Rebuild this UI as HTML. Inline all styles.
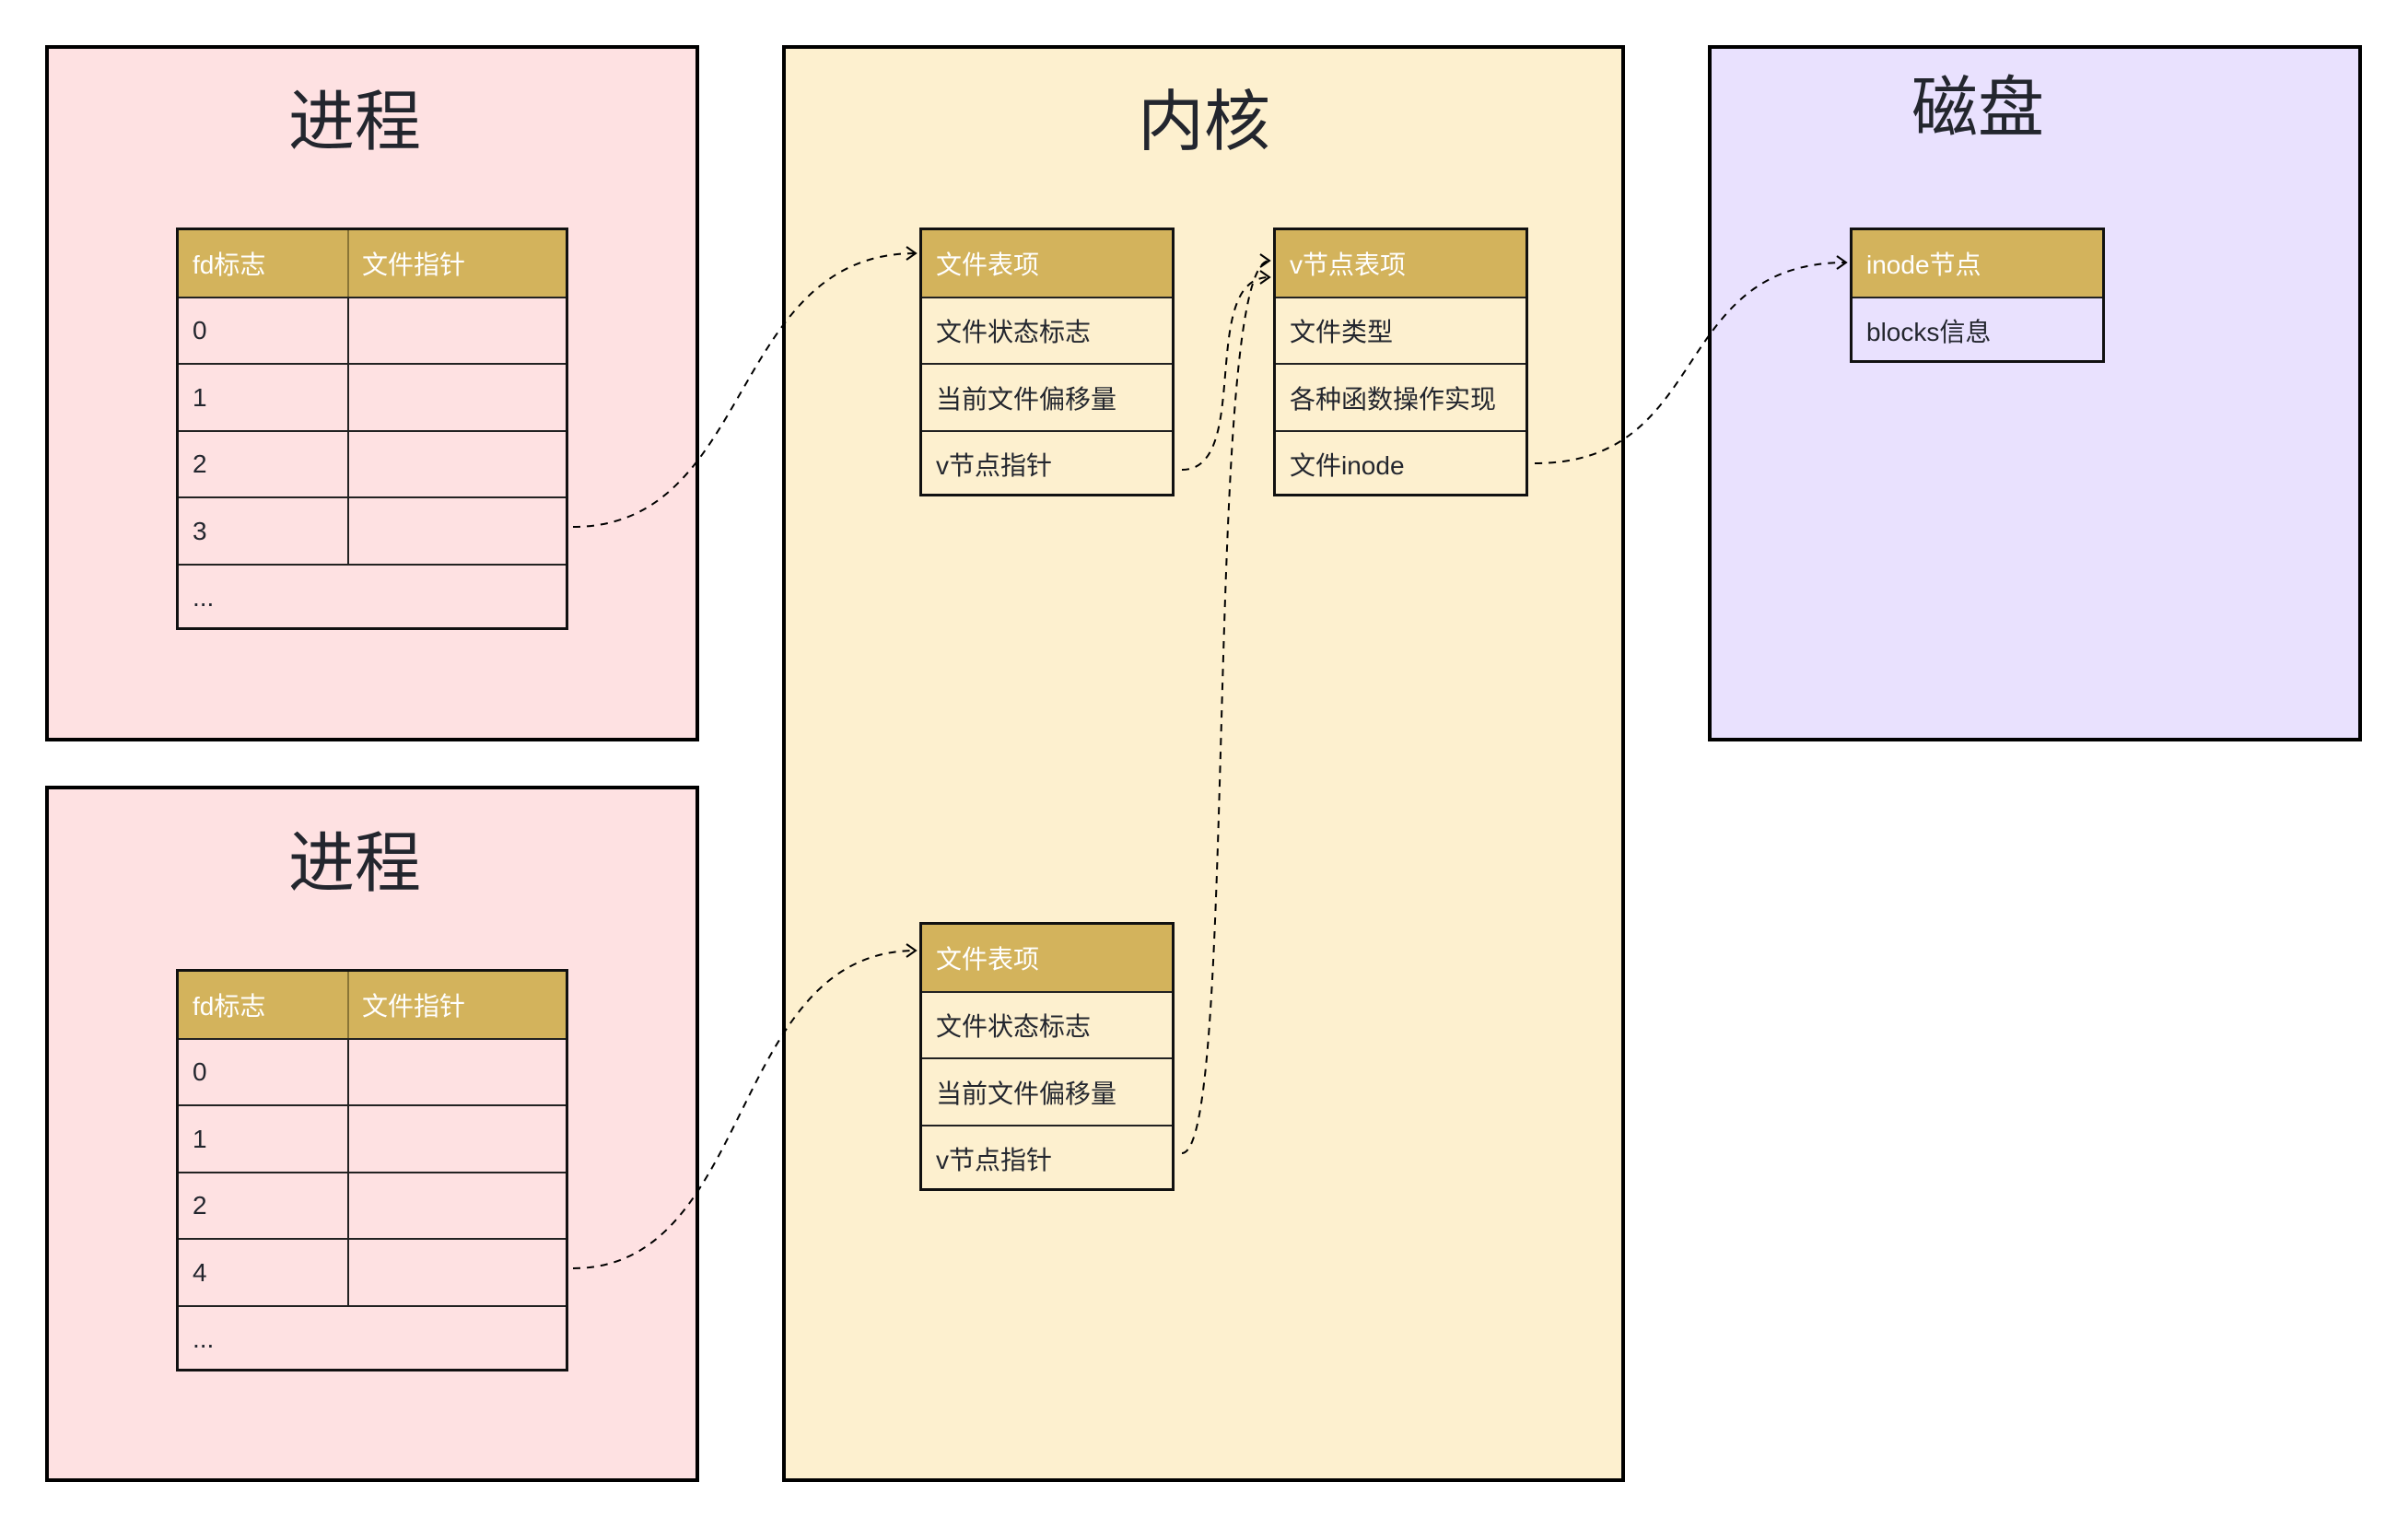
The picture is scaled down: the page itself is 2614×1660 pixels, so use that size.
<!DOCTYPE html>
<html><head><meta charset="utf-8"><style>
body{margin:0;width:2614px;height:1660px;background:#fff;position:relative;overflow:hidden;font-family:"Liberation Sans","Noto Sans CJK SC",sans-serif;color:#23262e}
.box{position:absolute;border:4px solid #000;box-sizing:border-box}
.title{position:absolute;font-size:72px;line-height:1;transform:translate(-50%,-50%);white-space:nowrap}
.tbl{position:absolute;border:3px solid #111;box-sizing:border-box;font-size:28px}
.row{position:absolute;left:0;right:0;border-top:2.5px solid #222;box-sizing:border-box;display:flex;align-items:center}
.row.h{background:#d3b35c;color:#fff;border-top:none}
.c{position:absolute;top:0;bottom:0;display:flex;align-items:center;padding-left:15px;box-sizing:border-box}
.div{position:absolute;top:0;bottom:0;border-left:2.5px solid #222}
</style></head><body>

<div class="box" style="left:49px;top:49px;width:710px;height:756px;background:#fee1e2"></div>
<div class="box" style="left:49px;top:853px;width:710px;height:756px;background:#fee1e2"></div>
<div class="box" style="left:849px;top:49px;width:915px;height:1560px;background:#fdf0cf"></div>
<div class="box" style="left:1854px;top:49px;width:710px;height:756px;background:#e9e1fe"></div>

<div class="title" style="left:385px;top:133px">进程</div>
<div class="title" style="left:385px;top:938px">进程</div>
<div class="title" style="left:1307px;top:133px">内核</div>
<div class="title" style="left:2147px;top:118px">磁盘</div>

<!-- fd table 1 -->
<div class="tbl" style="left:191px;top:247px;width:426px;height:437px">
 <div class="row h" style="top:0;height:72px"><div class="c" style="left:0">fd标志</div><div class="c" style="left:184px">文件指针</div><div class="div" style="left:183px;border-color:#8a7535"></div></div>
 <div class="row" style="top:72px;height:72px"><div class="c" style="left:0">0</div><div class="div" style="left:183px"></div></div>
 <div class="row" style="top:144px;height:73px"><div class="c" style="left:0">1</div><div class="div" style="left:183px"></div></div>
 <div class="row" style="top:217px;height:72px"><div class="c" style="left:0">2</div><div class="div" style="left:183px"></div></div>
 <div class="row" style="top:289px;height:73px"><div class="c" style="left:0">3</div><div class="div" style="left:183px"></div></div>
 <div class="row" style="top:362px;height:72px"><div class="c" style="left:0">...</div></div>
</div>
<!-- fd table 2 -->
<div class="tbl" style="left:191px;top:1052px;width:426px;height:437px">
 <div class="row h" style="top:0;height:72px"><div class="c" style="left:0">fd标志</div><div class="c" style="left:184px">文件指针</div><div class="div" style="left:183px;border-color:#8a7535"></div></div>
 <div class="row" style="top:72px;height:72px"><div class="c" style="left:0">0</div><div class="div" style="left:183px"></div></div>
 <div class="row" style="top:144px;height:73px"><div class="c" style="left:0">1</div><div class="div" style="left:183px"></div></div>
 <div class="row" style="top:217px;height:72px"><div class="c" style="left:0">2</div><div class="div" style="left:183px"></div></div>
 <div class="row" style="top:289px;height:73px"><div class="c" style="left:0">4</div><div class="div" style="left:183px"></div></div>
 <div class="row" style="top:362px;height:72px"><div class="c" style="left:0">...</div></div>
</div>

<!-- file table 1 -->
<div class="tbl" style="left:998px;top:247px;width:277px;height:292px">
 <div class="row h" style="top:0;height:72px"><div class="c" style="left:0">文件表项</div></div>
 <div class="row" style="top:72px;height:72px"><div class="c" style="left:0">文件状态标志</div></div>
 <div class="row" style="top:144px;height:73px"><div class="c" style="left:0">当前文件偏移量</div></div>
 <div class="row" style="top:217px;height:72px"><div class="c" style="left:0">v节点指针</div></div>
</div>
<!-- file table 2 -->
<div class="tbl" style="left:998px;top:1001px;width:277px;height:292px">
 <div class="row h" style="top:0;height:72px"><div class="c" style="left:0">文件表项</div></div>
 <div class="row" style="top:72px;height:72px"><div class="c" style="left:0">文件状态标志</div></div>
 <div class="row" style="top:144px;height:73px"><div class="c" style="left:0">当前文件偏移量</div></div>
 <div class="row" style="top:217px;height:72px"><div class="c" style="left:0">v节点指针</div></div>
</div>
<!-- vnode -->
<div class="tbl" style="left:1382px;top:247px;width:277px;height:292px">
 <div class="row h" style="top:0;height:72px"><div class="c" style="left:0">v节点表项</div></div>
 <div class="row" style="top:72px;height:72px"><div class="c" style="left:0">文件类型</div></div>
 <div class="row" style="top:144px;height:73px"><div class="c" style="left:0">各种函数操作实现</div></div>
 <div class="row" style="top:217px;height:72px"><div class="c" style="left:0">文件inode</div></div>
</div>
<!-- inode -->
<div class="tbl" style="left:2008px;top:247px;width:277px;height:147px">
 <div class="row h" style="top:0;height:72px"><div class="c" style="left:0">inode节点</div></div>
 <div class="row" style="top:72px;height:72px"><div class="c" style="left:0">blocks信息</div></div>
</div>

<svg style="position:absolute;left:0;top:0" width="2614" height="1660">
<defs><marker id="a" markerWidth="14" markerHeight="16" refX="12" refY="8" orient="auto" markerUnits="userSpaceOnUse"><path d="M2 1 L12 8 L2 15" fill="none" stroke="#000" stroke-width="2"/></marker></defs>
<g fill="none" stroke="#000" stroke-width="2" stroke-dasharray="8 7" marker-end="url(#a)">
<path d="M622 572 C 820 572, 790 275, 994 275"/>
<path d="M622 1377 C 820 1377, 790 1032, 994 1032"/>
<path d="M1283 510 C 1360 510, 1300 301, 1378 301"/>
<path d="M1283 1252 C 1345 1252, 1305 283, 1378 283"/>
<path d="M1666 503 C 1860 503, 1810 285, 2004 285"/>
</g>
</svg>
</body></html>
